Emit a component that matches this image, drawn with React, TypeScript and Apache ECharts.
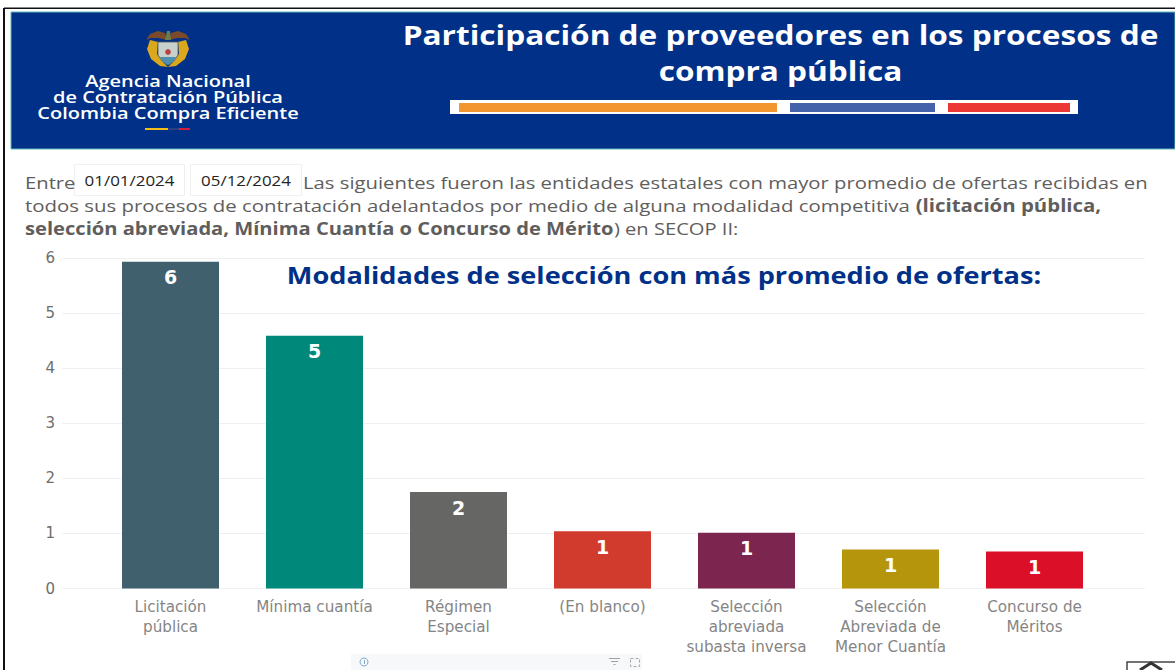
import React, { useEffect, useRef } from "react";
import * as echarts from "echarts";

const categories = ["Licitación\npública", "Mínima cuantía", "Régimen\nEspecial", "(En blanco)", "Selección\nabreviada\nsubasta inversa", "Selección\nAbreviada de\nMenor Cuantía", "Concurso de\nMéritos"];
const values = [5.93, 4.59, 1.75, 1.04, 1.01, 0.71, 0.67];
const valueLabels = ["6", "5", "2", "1", "1", "1", "1"];
const barColors = ["#41606E", "#00897B", "#666664", "#D13B2D", "#7C254F", "#B5950B", "#DC0F28"];
const yTicks = [0, 1, 2, 3, 4, 5, 6];
const reportTitleLines = ["Participación de proveedores en los procesos de", "compra pública"];
const agencyText = "Agencia Nacional\nde Contratación Pública\nColombia Compra Eficiente";
const dates = ["01/01/2024", "05/12/2024"];
const chartTitle = "Modalidades de selección con más promedio de ofertas:";

const font = "'Open Sans', sans-serif";
const axisFont = "'DejaVu Sans', sans-serif";
const navy = "#003087";
const bodyGrey = "#605E5C";

const txt = (x: number, y: number, text: string, fontSize: number, fill: string, sx = 1, extra: any = {}) => ({
  type: "text", x, y, z: 10, scaleX: sx,
  style: { text, fontSize, fill, fontFamily: font, textVerticalAlign: "middle", ...extra },
});
const box = (x: number, y: number, width: number, height: number, fill: string, extra: any = {}) => ({
  type: "rect", shape: { x, y, width, height }, z: 5, style: { fill, ...extra },
});
const poly = (points: number[][], fill: string, z = 6, extra: any = {}) => ({
  type: "polygon", z, shape: { points }, style: { fill, ...extra },
});

function emblem() {
  return [
    poly([[146, 40], [150, 34], [158, 31], [165, 33], [167, 40], [158, 38], [151, 38]], "#7A4A2A"),
    poly([[190, 40], [186, 34], [178, 31], [171, 33], [169, 40], [178, 38], [185, 38]], "#7A4A2A"),
    poly([[165, 40], [167, 31], [170, 31], [171, 40]], "#6E7B4B"),
    poly([[150, 40], [158, 42], [157, 54], [164, 63], [168, 67], [160, 66], [151, 59], [147, 49]], "#D9A81E"),
    poly([[186, 40], [178, 42], [179, 54], [172, 63], [168, 67], [176, 66], [185, 59], [189, 49]], "#D9A81E"),
    poly([[158, 42], [178, 42], [178, 55], [174, 61], [168, 65], [162, 61], [158, 55]], "#C7D0CC", 7, { stroke: "#4E5A50", lineWidth: 0.8 }),
    box(158.5, 42.5, 19, 5, "#8EA08E", { z: 8 }),
    poly([[160, 57], [176, 57], [174, 61], [168, 65], [162, 61]], "#4F8FB0", 8),
    { type: "circle", z: 9, shape: { cx: 168, cy: 52, r: 2.8 }, style: { fill: "#B8403C" } },
  ];
}

function buildGraphics() {
  const bold = { b: { fontSize: 17, fontWeight: 700, fill: bodyGrey, fontFamily: font } };
  const g: any[] = [
    box(4, 7.5, 1171, 1.5, "#111111"),
    box(3, 8, 2, 662, "#111111"),
    box(11, 12, 1164, 137, navy, { stroke: "#5FB9B4", lineWidth: 1 }),
    ...emblem(),
    box(145, 128, 23, 2, "#F4BE1A"),
    box(168, 128, 11, 2, "#2B3F7E"),
    box(179, 128, 11, 2, "#D81E3C"),
    box(450, 100, 628, 14, "#FFFFFF"),
    box(459, 103, 318, 9, "#F3962F"),
    box(790, 103, 145, 9, "#4462A9"),
    box(948, 103, 122, 9, "#EC3834"),
    box(74.5, 164.5, 110, 31, "#FFFFFF", { stroke: "#F0F0F0", lineWidth: 1 }),
    box(190.5, 164.5, 111, 31, "#FFFFFF", { stroke: "#F0F0F0", lineWidth: 1 }),
    box(351, 654, 291, 16, "#F7F8F9"),
    { type: "circle", z: 6, shape: { cx: 364, cy: 662, r: 4 }, style: { fill: "none", stroke: "#7FA8CF", lineWidth: 1 } },
    box(364, 660, 1, 4, "#7FA8CF"),
    box(609, 658, 11, 1, "#A0A0A0"),
    box(611, 661, 7, 1, "#A0A0A0"),
    box(613.5, 664, 2, 1, "#A0A0A0"),
    { type: "rect", z: 6, shape: { x: 630.5, y: 658.5, width: 9, height: 8 }, style: { fill: "none", stroke: "#A8A8A8", lineWidth: 1, lineDash: [3, 2] } },
    { type: "rect", z: 6, shape: { x: 1127, y: 662, width: 60, height: 20 }, style: { fill: "#FFFFFF", stroke: "#444444", lineWidth: 1.5 } },
    { type: "polyline", z: 7, shape: { points: [[1140, 670], [1151, 663], [1162, 670]] }, style: { fill: "none", stroke: "#333333", lineWidth: 3 } },
    txt(168, 97, agencyText, 15.5, "#FFFFFF", 1.29, { textAlign: "center", fontWeight: 600, lineHeight: 16.2 }),
  ];
  reportTitleLines.forEach((line, i) =>
    g.push(txt(780.5, 35 + i * 35.5, line, 27, "#FFFFFF", 1.17, { textAlign: "center", fontWeight: 700 }))
  );
  g.push(txt(129.5, 181, dates[0], 14, "#252423", 1.21, { textAlign: "center" }));
  g.push(txt(246, 181, dates[1], 14, "#252423", 1.21, { textAlign: "center" }));
  g.push(txt(25, 182, "Entre", 17, bodyGrey, 1.19));
  g.push(txt(303, 182, "Las siguientes fueron las entidades estatales con mayor promedio de ofertas recibidas en", 17, bodyGrey, 1.193));
  g.push(txt(25, 205, "todos sus procesos de contratación adelantados por medio de alguna modalidad competitiva {b|(licitación pública,}", 17, bodyGrey, 1.2, { rich: bold }));
  g.push(txt(25, 228, "{b|selección abreviada, Mínima Cuantía o Concurso de Mérito}) en SECOP II:", 17, bodyGrey, 1.185, { rich: bold }));
  g.push(txt(664, 275, chartTitle, 23, navy, 1.18, { textAlign: "center", fontWeight: 700 }));
  return g;
}

export default function App() {
  const ref = useRef<HTMLDivElement>(null);
  useEffect(() => {
    document.body.style.margin = "0";
    document.body.style.background = "#fff";
    const chart = echarts.init(ref.current!, null, { renderer: "svg" });
    const yBase = { type: "value", min: 0, max: 6, interval: 1 };
    chart.setOption({
      animation: false,
      backgroundColor: "#FFFFFF",
      grid: [
        { left: 62, top: 258, width: 1083, height: 330.5 },
        { left: 98.5, top: 258, width: 1008, height: 330.5 },
      ],
      xAxis: [
        { type: "category", gridIndex: 0, data: categories, show: false },
        {
          type: "category", gridIndex: 1, data: categories,
          axisLine: { show: false }, axisTick: { show: false },
          axisLabel: { interval: 0, color: "#858585", fontSize: 15.2, fontFamily: axisFont, lineHeight: 19.7, margin: 9, verticalAlign: "top" },
        },
      ],
      yAxis: [
        {
          ...yBase, gridIndex: 0,
          axisLine: { show: false }, axisTick: { show: false },
          splitLine: { show: true, lineStyle: { color: "#F0F0F0", width: 1 } },
          axisLabel: { color: "#6E6E6E", fontSize: 15, fontFamily: axisFont, margin: 7, formatter: (v: number) => String(yTicks[v]) },
        },
        { ...yBase, gridIndex: 1, show: false, splitLine: { show: false } },
      ],
      series: [
        {
          type: "bar", xAxisIndex: 1, yAxisIndex: 1, barWidth: 97,
          data: values.map((v, i) => ({
            value: v,
            itemStyle: { color: barColors[i] },
            label: { formatter: valueLabels[i] },
          })),
          label: { show: true, position: "insideTop", distance: 6, color: "#FFFFFF", fontSize: 19, fontWeight: 700, fontFamily: axisFont },
        },
      ],
      graphic: { elements: buildGraphics() },
    });
    return () => chart.dispose();
  }, []);
  return <div ref={ref} style={{ width: 1175, height: 670 }} />;
}
